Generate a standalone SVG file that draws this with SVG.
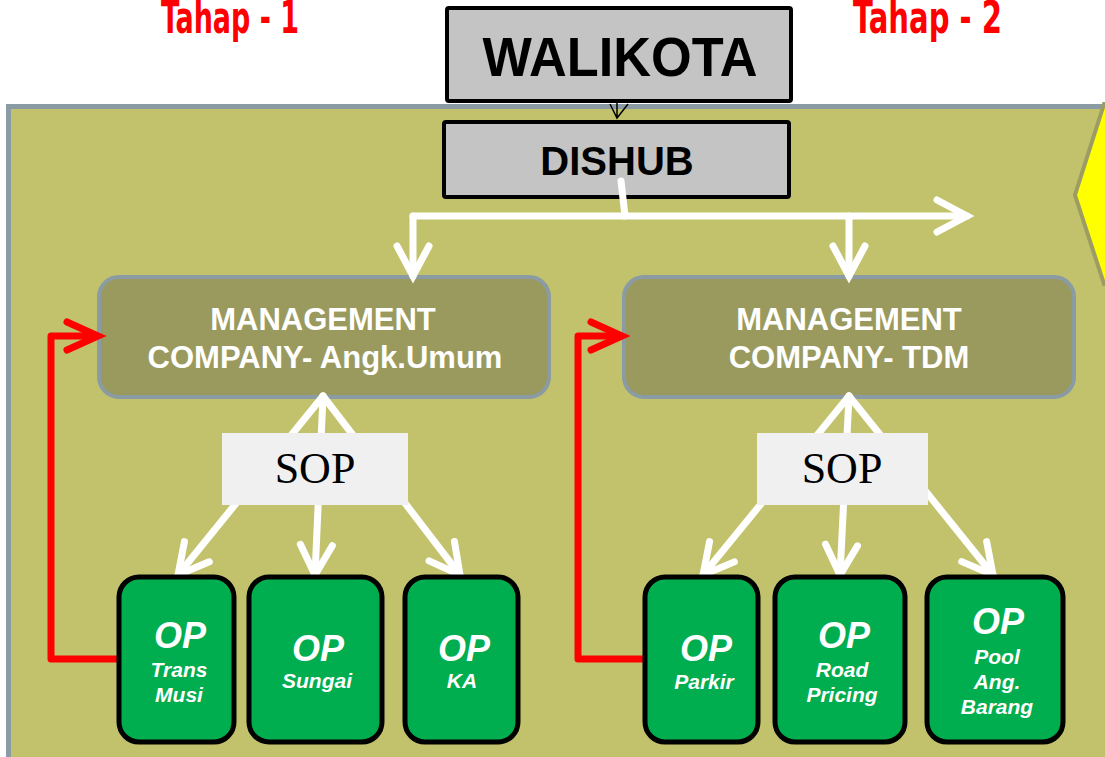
<svg xmlns="http://www.w3.org/2000/svg" width="1105" height="757" viewBox="0 0 1105 757">
  <defs>
    <style>
      .stage { font-family: "Liberation Sans Narrow", "DejaVu Sans Condensed", "Liberation Sans", sans-serif; font-weight: bold; font-size: 44px; fill: #FF0000; }
      .top-box { fill: #C4C4C4; stroke: #000; stroke-width: 4; }
      .top-text { font-family: "Liberation Sans", Arial, sans-serif; font-weight: bold; fill: #000; text-anchor: middle; }
      .mgmt-box { fill: #9A9A5E; stroke: #8A9BA4; stroke-width: 4; }
      .mgmt-text { font-family: "Liberation Sans", Arial, sans-serif; font-weight: bold; font-size: 31px; fill: #fff; text-anchor: middle; }
      .sop-box { fill: #F0F0F0; }
      .sop-text { font-family: "Liberation Serif", "Times New Roman", serif; font-size: 44px; fill: #000; text-anchor: middle; }
      .op-box { fill: #00AD4F; stroke: #000; stroke-width: 5; }
      .op-big { font-family: "Liberation Sans", Arial, sans-serif; font-weight: bold; font-style: italic; font-size: 36px; fill: #fff; text-anchor: middle; }
      .op-small { font-family: "Liberation Sans", Arial, sans-serif; font-weight: bold; font-style: italic; font-size: 21px; fill: #fff; text-anchor: middle; }
      .flow { fill: none; stroke: #fff; stroke-width: 7; stroke-linecap: round; stroke-linejoin: round; }
      .feedback { fill: none; stroke: #FF0000; stroke-width: 7; stroke-linecap: butt; stroke-linejoin: round; }
    </style>
    <marker id="head-white" viewBox="0 0 40 40" markerWidth="40" markerHeight="40" refX="36" refY="20" orient="auto" markerUnits="userSpaceOnUse" overflow="visible">
      <path d="M6,4 L36,20 L6,36" fill="none" stroke="#fff" stroke-width="7" stroke-linecap="round" stroke-linejoin="miter"/>
    </marker>
    <marker id="head-red" viewBox="0 0 40 40" markerWidth="40" markerHeight="40" refX="36" refY="20" orient="auto" markerUnits="userSpaceOnUse" overflow="visible">
      <path d="M5,6 L36,20 L5,34" fill="none" stroke="#FF0000" stroke-width="7" stroke-linecap="round" stroke-linejoin="miter"/>
    </marker>
  </defs>

  <!-- page -->
  <rect x="0" y="0" width="1105" height="757" fill="#fff"/>

  <!-- stage titles -->
  <text class="stage" x="161" y="33" textLength="138" lengthAdjust="spacingAndGlyphs">Tahap - 1</text>
  <text class="stage" x="853" y="33" textLength="149" lengthAdjust="spacingAndGlyphs">Tahap - 2</text>

  <!-- olive panel -->
  <rect x="8.5" y="106.5" width="1110" height="660" fill="#C2C26C" stroke="#8A9BA4" stroke-width="5"/>

  <!-- yellow chevron at the right edge -->
  <polygon points="1104,104 1075,195 1104,284 1120,284 1120,104" fill="#FFFF00" stroke="#9C9C63" stroke-width="4"/>

  <!-- nodes -->
  <g id="walikota">
    <rect class="top-box" x="447" y="8" width="344" height="93" rx="2"/>
    <text class="top-text" x="620" y="76" font-size="56" textLength="275" lengthAdjust="spacingAndGlyphs">WALIKOTA</text>
  </g>

  <g id="dishub">
    <rect class="top-box" x="444" y="122" width="345" height="75" rx="2"/>
    <text class="top-text" x="617" y="175" font-size="40">DISHUB</text>
  </g>

  <g id="mgmt-angkutan">
    <rect class="mgmt-box" x="99" y="277" width="450" height="120" rx="20"/>
    <text class="mgmt-text" x="323" y="330">MANAGEMENT</text>
    <text class="mgmt-text" x="325" y="368">COMPANY- Angk.Umum</text>
  </g>

  <g id="mgmt-tdm">
    <rect class="mgmt-box" x="624" y="277" width="450" height="120" rx="20"/>
    <text class="mgmt-text" x="849" y="330">MANAGEMENT</text>
    <text class="mgmt-text" x="849" y="368">COMPANY- TDM</text>
  </g>

  <!-- connectors -->
  <g id="connectors">
    <!-- walikota to dishub -->
    <path d="M617,102 L617,118 M610,104 L617,118 L628,104" fill="none" stroke="#000" stroke-width="1.5"/>
    <!-- dishub distribution bus -->
    <path class="flow" d="M621,181 L625,216"/>
    <path class="flow" d="M413,216 L967,216" marker-end="url(#head-white)"/>
    <path class="flow" d="M413,216 L413,276" marker-end="url(#head-white)"/>
    <path class="flow" d="M849,216 L849,276" marker-end="url(#head-white)"/>
    <!-- management to operators, left group -->
    <path class="flow" d="M323,396 L178,575" marker-end="url(#head-white)"/>
    <path class="flow" d="M323,396 L315,575" marker-end="url(#head-white)"/>
    <path class="flow" d="M323,396 L460,575" marker-end="url(#head-white)"/>
    <!-- management to operators, right group -->
    <path class="flow" d="M849,396 L703,575" marker-end="url(#head-white)"/>
    <path class="flow" d="M849,396 L840,575" marker-end="url(#head-white)"/>
    <path class="flow" d="M849,396 L993,575" marker-end="url(#head-white)"/>
    <!-- feedback loops -->
    <path class="feedback" d="M121,659 L51,659 L51,336 L98,336" marker-end="url(#head-red)"/>
    <path class="feedback" d="M646,659 L578,659 L578,336 L622,336" marker-end="url(#head-red)"/>
  </g>

  <g id="sop-left">
    <rect class="sop-box" x="222" y="433" width="186" height="72"/>
    <text class="sop-text" x="315" y="483">SOP</text>
  </g>

  <g id="sop-right">
    <rect class="sop-box" x="757" y="433" width="171" height="72"/>
    <text class="sop-text" x="842" y="483">SOP</text>
  </g>

  <g id="op-transmusi">
    <rect class="op-box" x="119" y="577" width="115" height="165" rx="20"/>
    <text class="op-big" x="180" y="648">OP</text>
    <text class="op-small" x="179" y="677">Trans</text>
    <text class="op-small" x="179" y="702">Musi</text>
  </g>

  <g id="op-sungai">
    <rect class="op-box" x="249" y="577" width="133" height="165" rx="20"/>
    <text class="op-big" x="318" y="661">OP</text>
    <text class="op-small" x="317" y="688">Sungai</text>
  </g>

  <g id="op-ka">
    <rect class="op-box" x="405" y="577" width="113" height="165" rx="20"/>
    <text class="op-big" x="464" y="661">OP</text>
    <text class="op-small" x="462" y="688">KA</text>
  </g>

  <g id="op-parkir">
    <rect class="op-box" x="645" y="577" width="113" height="165" rx="20"/>
    <text class="op-big" x="706" y="661">OP</text>
    <text class="op-small" x="704" y="689">Parkir</text>
  </g>

  <g id="op-road-pricing">
    <rect class="op-box" x="775" y="577" width="130" height="165" rx="20"/>
    <text class="op-big" x="844" y="648">OP</text>
    <text class="op-small" x="842" y="677">Road</text>
    <text class="op-small" x="842" y="702">Pricing</text>
  </g>

  <g id="op-pool-barang">
    <rect class="op-box" x="927" y="577" width="136" height="165" rx="20"/>
    <text class="op-big" x="998" y="634">OP</text>
    <text class="op-small" x="997" y="664">Pool</text>
    <text class="op-small" x="997" y="689">Ang.</text>
    <text class="op-small" x="997" y="714">Barang</text>
  </g>
</svg>
